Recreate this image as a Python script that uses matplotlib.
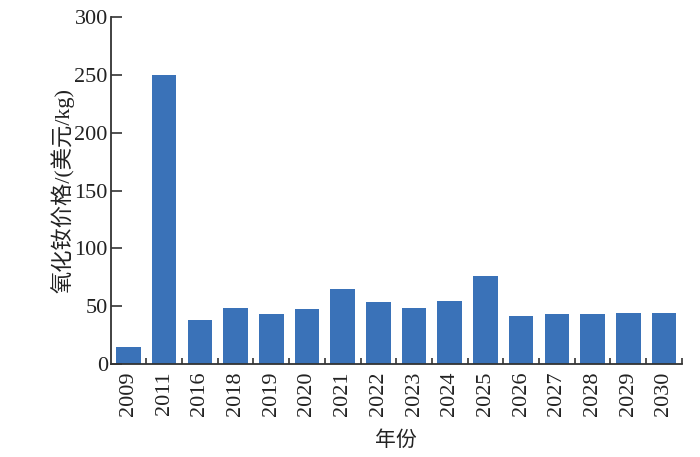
import matplotlib
matplotlib.use("Agg")
import matplotlib.pyplot as plt
import numpy as np

plt.rcParams["font.family"] = ["Liberation Serif", "Noto Sans CJK SC"]

years = ["2009", "2011", "2016", "2018", "2019", "2020", "2021", "2022",
         "2023", "2024", "2025", "2026", "2027", "2028", "2029", "2030"]
prices = [15, 250, 38, 49, 43, 48, 65, 54, 49, 55, 76, 42, 43, 43, 44, 44]

fig = plt.figure(figsize=(7, 4.57), dpi=100)
ax = fig.add_axes([0.158, 0.203, 0.816, 0.760])

x = np.arange(len(years))
ax.bar(x, prices, width=0.69, color="#3a72b8")

ax.set_xlim(-0.5, len(years) - 0.5)
ax.set_ylim(0, 300)
ax.set_yticks(range(0, 301, 50))
ax.set_xticks(x)
ax.set_xticklabels(years, rotation=90, fontsize=16, color="#222222")
ax.set_xticks(x + 0.5, minor=True)
ax.tick_params(axis="x", which="major", length=0, pad=5)
ax.tick_params(axis="x", which="minor", direction="in", length=4, width=1.2, color="#333333")
ax.tick_params(axis="y", direction="in", length=8, width=1.2, labelsize=16,
               labelcolor="#222222", color="#333333", pad=2)

for s in ["top", "right"]:
    ax.spines[s].set_visible(False)
for s in ["left", "bottom"]:
    ax.spines[s].set_linewidth(1.3)
    ax.spines[s].set_color("#333333")

ax.set_xlabel("年份", fontsize=15, labelpad=11, color="#222222")
ax.set_ylabel("氧化钕价格/(美元/kg)", fontsize=16, labelpad=0, color="#222222")

fig.savefig("out.png", dpi=100)
